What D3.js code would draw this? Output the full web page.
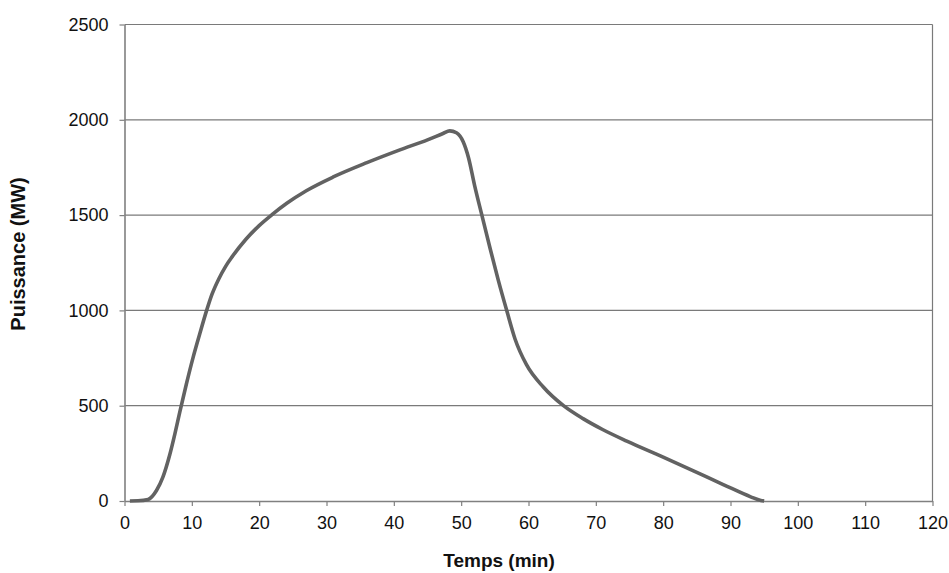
<!DOCTYPE html>
<html>
<head>
<meta charset="utf-8">
<script src="https://cdn.jsdelivr.net/npm/d3@7"></script>
<style>
  body { margin: 0; background: #fff; }
  text { font-family: "Liberation Sans", Arial, sans-serif; }
</style>
</head>
<body>
<div id="chart"></div>
<script>
// temps (min) et puissance (MW)
const times = [0.8, 2, 3.5, 4.75, 5.7, 6.7, 7.5, 8.2, 9.2, 10.2, 11.2, 12.2, 13, 14, 15, 16, 18, 20, 22, 24.1, 27, 31, 36, 40.9, 45, 47.3, 48.3, 49.3, 50.3, 51.1, 52, 53, 54.3, 55.5, 56.8, 58, 59.7, 62.2, 65.2, 68.1, 71, 74.6, 80, 84.5, 89, 93, 94.5, 95];
const power = [0, 1, 8, 55, 125, 240, 355, 465, 615, 755, 880, 1000, 1085, 1165, 1230, 1282, 1372, 1445, 1505, 1562, 1628, 1700, 1775, 1842, 1895, 1928, 1942, 1932, 1885, 1800, 1655, 1510, 1325, 1160, 995, 850, 715, 598, 500, 432, 375, 314, 230, 158, 85, 22, 3, 0];
const xTicks = [0, 10, 20, 30, 40, 50, 60, 70, 80, 90, 100, 110, 120];
const yTicks = [0, 500, 1000, 1500, 2000, 2500];

const width = 949, height = 573;
const plotLeft = 124.5, plotRight = 932.5, plotTop = 24.5, plotBottom = 501;

const svg = d3.select('#chart')
    .append('svg')
    .attr('width', width)
    .attr('height', height);

const x = d3.scaleLinear().domain([0, 120]).range([plotLeft, plotRight]);
const y = d3.scaleLinear().domain([0, 2500]).range([plotBottom, plotTop]);

// grid
svg.append('g')
    .selectAll('line')
    .data(yTicks.filter(d => d > 0))
    .enter()
    .append('line')
    .attr('x1', plotLeft)
    .attr('x2', plotRight)
    .attr('y1', d => y(d))
    .attr('y2', d => y(d))
    .style('stroke', '#7a7a7a')
    .style('stroke-width', 1.2);

// right border
svg.append('line')
    .attr('x1', plotRight).attr('x2', plotRight)
    .attr('y1', plotTop).attr('y2', plotBottom)
    .style('stroke', '#7a7a7a')
    .style('stroke-width', 1.2);

const xAxis = svg.append('g')
    .attr('transform', `translate(0, ${plotBottom})`)
    .call(d3.axisBottom(x).tickValues(xTicks).tickFormat(d3.format('d'))
        .tickSize(5).tickPadding(10).tickSizeOuter(0));

const yAxis = svg.append('g')
    .attr('transform', `translate(${plotLeft}, 0)`)
    .call(d3.axisLeft(y).tickValues(yTicks).tickFormat(d3.format('d'))
        .tickSize(5).tickPadding(11).tickSizeOuter(0));

[xAxis, yAxis].forEach(g => {
    g.select('.domain').style('stroke', '#808080').style('stroke-width', 1.6);
    g.selectAll('.tick line').style('stroke', '#808080').style('stroke-width', 1.2);
    g.selectAll('.tick text')
        .style('font-family', '"Liberation Sans", Arial, sans-serif')
        .style('font-size', '18px')
        .style('fill', '#111');
});

const line = d3.line()
    .x((d, i) => x(times[i]))
    .y(d => y(d))
    .curve(d3.curveMonotoneX);

svg.append('path')
    .datum(power)
    .attr('d', line)
    .style('fill', 'none')
    .style('stroke', '#626262')
    .style('stroke-width', 3.6)
    .style('stroke-linejoin', 'round');

svg.append('text')
    .attr('x', 499)
    .attr('y', 567)
    .attr('text-anchor', 'middle')
    .style('font-size', '19px')
    .style('font-weight', 'bold')
    .style('fill', '#111')
    .text('Temps (min)');

svg.append('text')
    .attr('transform', `translate(25, 254) rotate(-90)`)
    .attr('text-anchor', 'middle')
    .style('font-size', '20px')
    .style('font-weight', 'bold')
    .style('fill', '#111')
    .text('Puissance (MW)');
</script>
</body>
</html>
